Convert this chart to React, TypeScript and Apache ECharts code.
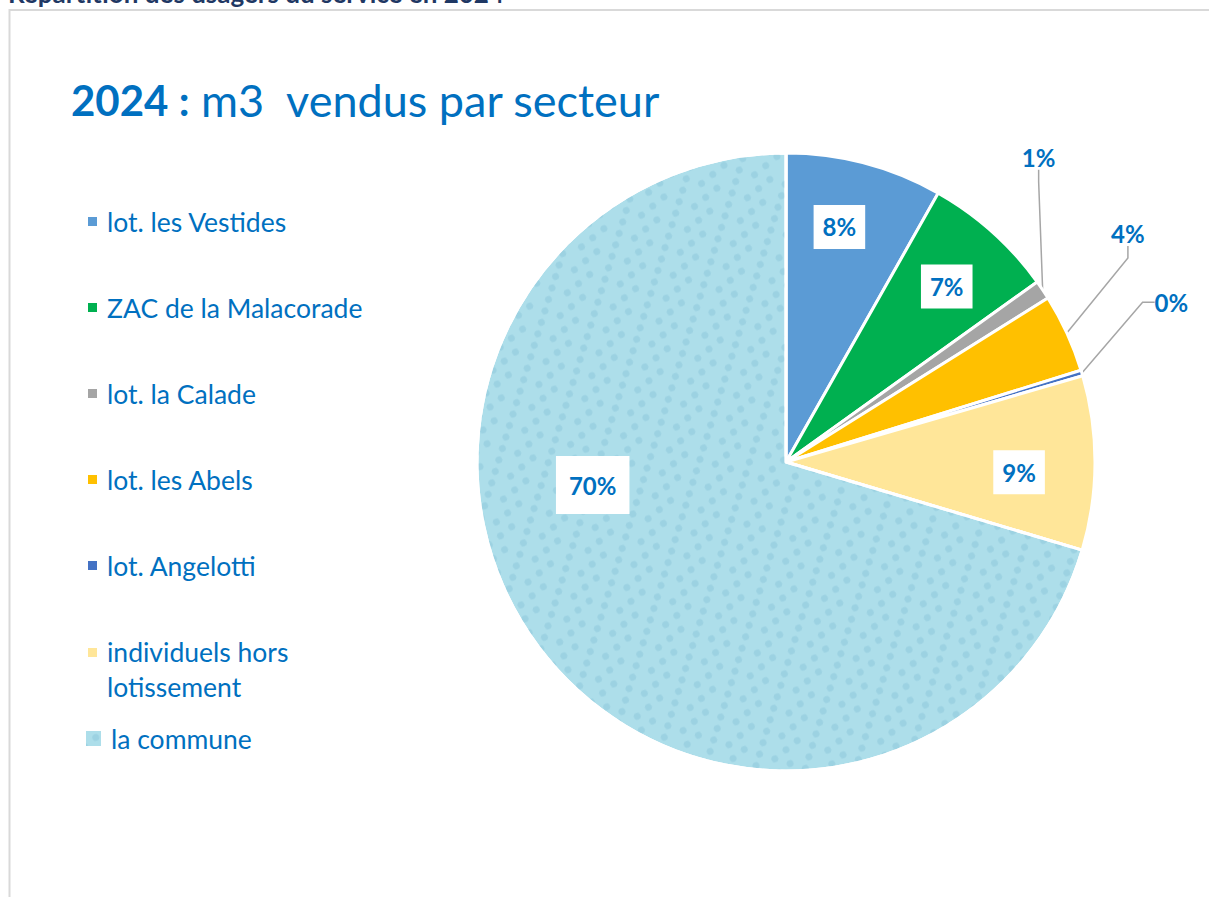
import React, { useEffect, useRef } from "react";
import * as echarts from "echarts";

const sectors = [
  "lot. les Vestides",
  "ZAC de la Malacorade",
  "lot. la Calade",
  "lot. les Abels",
  "lot. Angelotti",
  "individuels hors lotissement",
  "la commune",
];
const shares = [8.2, 6.9, 1.0, 4.1, 0.3, 9.1, 70.4];
const colors = ["#5b9bd5", "#00b050", "#a5a5a5", "#ffc000", "#4472c4", "#ffe699", "#addeea"];
const insideLabel = [true, true, false, false, false, true, true];

const titleYear = "2024 :";
const titleRest = "m3  vendus par secteur";
const pageHeading = "Répartition des usagers du service en 2024";

// label placement: [angle in degrees clockwise from 12 o'clock, fraction of radius]
const labelSpots: [number, number][] = [
  [12.8, 0.78],
  [42.5, 0.77],
  [39.7, 1.28],
  [56.3, 1.33],
  [67.5, 1.35],
  [92.5, 0.755],
  [263.2, 0.63],
];

const CX = 786;
const CY = 462;
const R = 309;
const BLUE = "#0070c0";
const FONT = "Lato, 'Open Sans', sans-serif";

export default function App() {
  const ref = useRef<HTMLDivElement>(null);
  useEffect(() => {
    if (!ref.current) return;
    const chart = echarts.init(ref.current, undefined, { renderer: "svg" });
    const data = sectors.map((name, i) => ({
      name,
      value: shares[i],
      itemStyle:
        i === 6
          ? {
              color: colors[i],
              decal: {
                symbol: "circle",
                symbolSize: 0.9,
                color: "rgba(120,185,210,0.33)",
                dashArrayX: [[9, 7], [0, 8, 9, 7]],
                dashArrayY: [8, 4],
                rotation: 0.3,
              },
            }
          : { color: colors[i] },
      label: insideLabel[i]
        ? {
            position: "inside",
            backgroundColor: "#ffffff",
            padding: i === 6 ? [17, 13] : [10, 9],
          }
        : { position: "outside" },
      labelLine: { show: !insideLabel[i] },
    }));
    const legendText = {
      color: BLUE,
      fontSize: 26.5,
      fontFamily: FONT,
      lineHeight: 35,
      padding: [0, 0, 0, 4],
    };
    const commonLegend = {
      orient: "vertical",
      padding: 0,
      textStyle: legendText,
      selectedMode: false,
    };
    chart.setOption({
      animation: false,
      backgroundColor: "#ffffff",
      textStyle: { fontFamily: FONT },
      graphic: [
        {
          type: "rect",
          shape: { x: 9.5, y: 10, width: 1300, height: 1000 },
          style: { fill: "none", stroke: "#d9d9d9", lineWidth: 2 },
          silent: true,
        },
        {
          type: "text",
          x: 8,
          y: 6,
          style: {
            text: pageHeading,
            fill: "#1f3864",
            font: "bold 26px " + FONT,
            verticalAlign: "bottom",
          },
          silent: true,
        },
      ],
      title: {
        left: 66,
        top: 72,
        text: `{b|${titleYear}}{r| ${titleRest}}`,
        textStyle: {
          rich: {
            b: { color: BLUE, fontSize: 42, fontWeight: "bold", fontFamily: FONT },
            r: { color: BLUE, fontSize: 45, fontWeight: "normal", fontFamily: FONT },
          },
        },
      },
      legend: [
        {
          ...commonLegend,
          left: 86,
          top: 204,
          itemWidth: 11,
          itemHeight: 11,
          itemGap: 51,
          icon: "rect",
          data: sectors.slice(0, 5),
        },
        {
          ...commonLegend,
          left: 86,
          top: 634,
          itemWidth: 11,
          itemHeight: 45,
          icon: "path://M0,0h11v11h-11z M0,44h0.01v0.01h-0.01z",
          data: sectors.slice(5, 6),
          formatter: (name: string) => name.replace(" lotissement", "\nlotissement"),
        },
        {
          ...commonLegend,
          left: 84,
          top: 721,
          itemWidth: 17,
          itemHeight: 17,
          icon: "rect",
          data: sectors.slice(6),
        },
      ],
      series: [
        {
          type: "pie",
          center: [CX, CY],
          radius: R,
          startAngle: 90,
          clockwise: true,
          data,
          itemStyle: { borderColor: "#ffffff", borderWidth: 3 },
          label: {
            color: BLUE,
            fontSize: 24,
            fontWeight: "bold",
            fontFamily: FONT,
            formatter: (p: any) => `${Math.round(p.value)}%`,
          },
          labelLine: {
            lineStyle: { color: "#a6a6a6", width: 1.5 },
            length: 20,
            length2: 12,
          },
          labelLayout: (p: any) => {
            const [a, f] = labelSpots[p.dataIndex];
            const rad = (a * Math.PI) / 180;
            return {
              x: CX + R * f * Math.sin(rad),
              y: CY - R * f * Math.cos(rad),
              align: "center",
              verticalAlign: "middle",
            };
          },
          emphasis: { disabled: true },
        },
      ],
    });
    return () => chart.dispose();
  }, []);
  return (
    <div
      ref={ref}
      style={{ position: "absolute", left: 0, top: 0, width: 1209, height: 897 }}
    />
  );
}
